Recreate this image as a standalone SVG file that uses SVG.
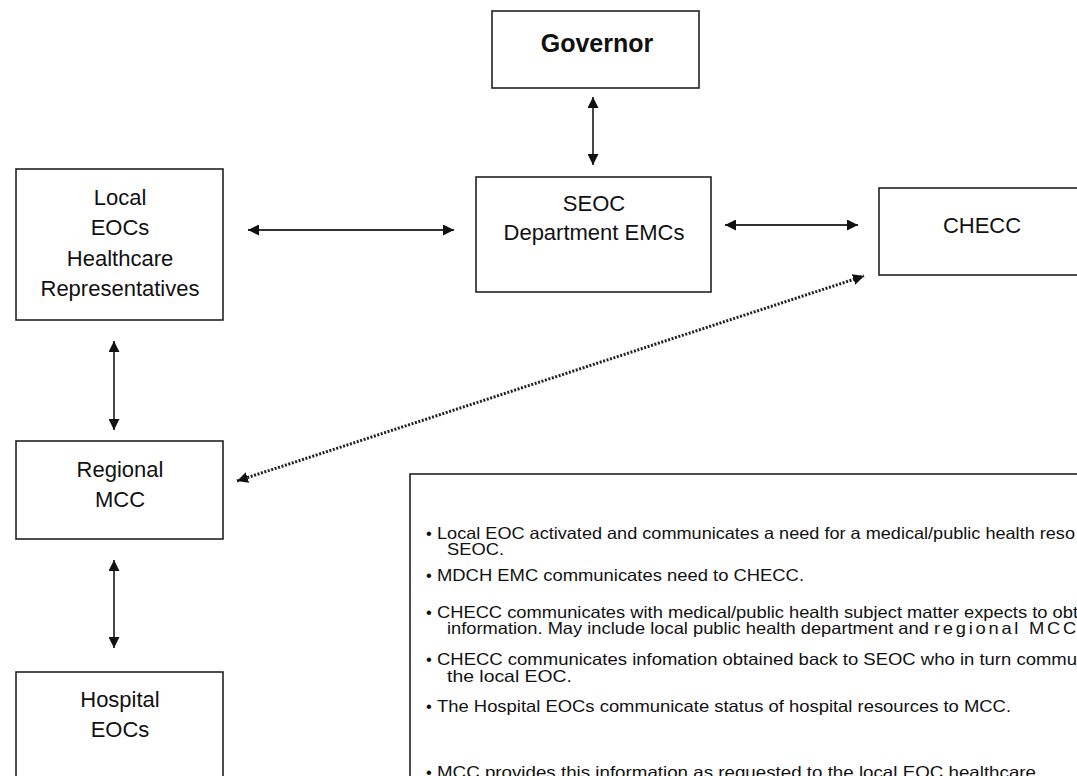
<svg xmlns="http://www.w3.org/2000/svg" width="1077" height="776" viewBox="0 0 1077 776">
<style>
.box{fill:#fff;stroke:#222;stroke-width:1.6}
.nt{font-family:"Liberation Sans",Arial,sans-serif;font-size:22px;fill:#111;text-anchor:middle}
.gov{font-family:"Liberation Sans",Arial,sans-serif;font-size:25px;font-weight:bold;fill:#111;text-anchor:middle}
.bt{font-family:"Liberation Sans",Arial,sans-serif;font-size:16.5px;fill:#111}
.ln{stroke:#333;stroke-width:1.8;fill:none}
.dot{stroke:#222;stroke-width:3;stroke-dasharray:2 1.6;fill:none}
</style>
<defs>
<marker id="ah" viewBox="0 0 10 10" refX="10" refY="5" markerWidth="11" markerHeight="11" markerUnits="userSpaceOnUse" orient="auto-start-reverse">
<path d="M0,0 L10,5 L0,10 z" fill="#111"/>
</marker>
</defs>
<rect width="1077" height="776" fill="#fff"/>

<g id="connectors">
<line class="ln" x1="593" y1="97" x2="593" y2="165" marker-start="url(#ah)" marker-end="url(#ah)"/>
<line class="ln" x1="248" y1="230" x2="454" y2="230" marker-start="url(#ah)" marker-end="url(#ah)"/>
<line class="ln" x1="725" y1="225" x2="858" y2="225" marker-start="url(#ah)" marker-end="url(#ah)"/>
<line class="ln" x1="114" y1="341" x2="114" y2="430" marker-start="url(#ah)" marker-end="url(#ah)"/>
<line class="ln" x1="114" y1="560" x2="114" y2="648" marker-start="url(#ah)" marker-end="url(#ah)"/>
<line class="dot" x1="237" y1="481" x2="864" y2="276" marker-start="url(#ah)" marker-end="url(#ah)"/>
</g>

<g id="governor">
<rect class="box" x="492" y="11" width="207" height="77"/>
<text class="gov" x="597" y="52">Governor</text>
</g>

<g id="seoc">
<rect class="box" x="476" y="177" width="235" height="115"/>
<text class="nt" x="594" y="211">SEOC</text>
<text class="nt" x="594" y="240">Department EMCs</text>
</g>

<g id="checc">
<rect class="box" x="879" y="188" width="220" height="87"/>
<text class="nt" x="982" y="233">CHECC</text>
</g>

<g id="local">
<rect class="box" x="16" y="169" width="207" height="151"/>
<text class="nt" x="120" y="205">Local</text>
<text class="nt" x="120" y="235">EOCs</text>
<text class="nt" x="120" y="266">Healthcare</text>
<text class="nt" x="120" y="296">Representatives</text>
</g>

<g id="regional">
<rect class="box" x="16" y="441" width="207" height="98"/>
<text class="nt" x="120" y="477">Regional</text>
<text class="nt" x="120" y="507">MCC</text>
</g>

<g id="hospital">
<rect class="box" x="16" y="672" width="207" height="120"/>
<text class="nt" x="120" y="707">Hospital</text>
<text class="nt" x="120" y="737">EOCs</text>
</g>

<g id="notes">
<rect class="box" x="410" y="474" width="700" height="330"/>
<text class="bt" x="426" y="539">•</text>
<text class="bt" x="437" y="539" textLength="638" lengthAdjust="spacingAndGlyphs">Local EOC activated and communicates a need for a medical/public health reso</text>
<text class="bt" x="447" y="555" textLength="57" lengthAdjust="spacingAndGlyphs">SEOC.</text>
<text class="bt" x="426" y="581">•</text>
<text class="bt" x="437" y="581" textLength="367" lengthAdjust="spacingAndGlyphs">MDCH EMC communicates need to CHECC.</text>
<text class="bt" x="426" y="618">•</text>
<text class="bt" x="437" y="618" textLength="641" lengthAdjust="spacingAndGlyphs">CHECC communicates with medical/public health subject matter expects to obt</text>
<text class="bt" x="447" y="634" textLength="632" lengthAdjust="spacingAndGlyphs">information. May include local public health department and <tspan letter-spacing="2.5">regional MCC</tspan></text>
<text class="bt" x="426" y="665">•</text>
<text class="bt" x="437" y="665" textLength="640" lengthAdjust="spacingAndGlyphs">CHECC communicates infomation obtained back to SEOC who in turn commu</text>
<text class="bt" x="447" y="682" textLength="125" lengthAdjust="spacingAndGlyphs">the local EOC.</text>
<text class="bt" x="426" y="712">•</text>
<text class="bt" x="437" y="712" textLength="574" lengthAdjust="spacingAndGlyphs">The Hospital EOCs communicate status of hospital resources to MCC.</text>
<text class="bt" x="426" y="778">•</text>
<text class="bt" x="437" y="778" textLength="599" lengthAdjust="spacingAndGlyphs">MCC provides this information as requested to the local EOC healthcare</text>
</g>
</svg>
